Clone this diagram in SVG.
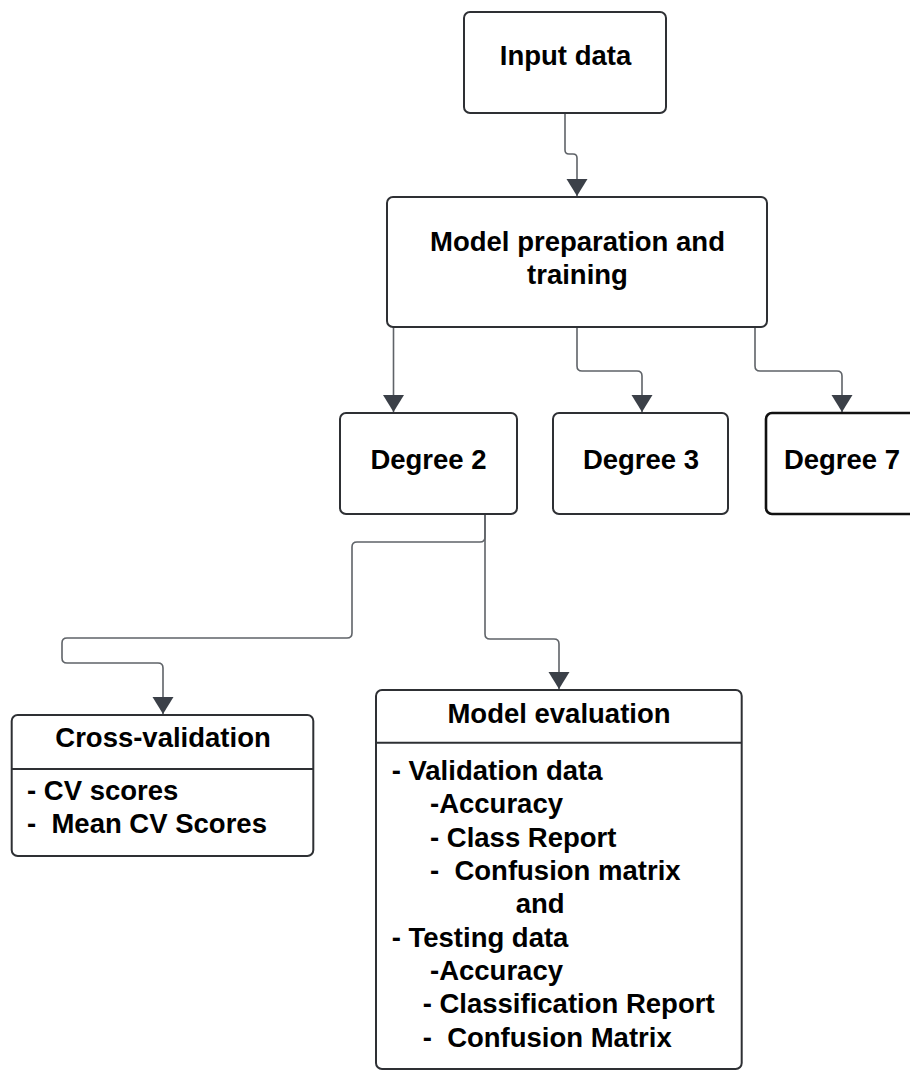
<svg xmlns="http://www.w3.org/2000/svg" width="910" height="1071" viewBox="0 0 910 1071">
<style>
.box{fill:#fff;stroke:#2e3034;stroke-width:2}
.dark{fill:#fff;stroke:#111;stroke-width:2.6}
.t{font-family:"Liberation Sans",Arial,sans-serif;font-weight:bold;font-size:27.5px;fill:#000}
.c{text-anchor:middle}
.div{stroke:#2e3034;stroke-width:2}
.con{fill:none;stroke:#5f6368;stroke-width:1.6}
</style>
<defs>
<marker id="ah" markerUnits="userSpaceOnUse" viewBox="0 -11 18 22" refX="17" refY="0" markerWidth="18" markerHeight="22" orient="auto">
<path d="M0,-10.5 L17,0 L0,10.5 Z" fill="#3b4048"/>
</marker>
</defs>
<rect width="910" height="1071" fill="#fff"/>
<g id="connectors">
<path class="con" marker-end="url(#ah)" d="M565,113 V150 Q565,154 569,154 H573 Q577,154 577,158 V196"/>
<path class="con" marker-end="url(#ah)" d="M393.5,327 V412"/>
<path class="con" marker-end="url(#ah)" d="M577,327 V366 Q577,371 582,371 H637 Q642,371 642,376 V412"/>
<path class="con" marker-end="url(#ah)" d="M755,327 V366 Q755,371 760,371 H837 Q842,371 842,376 V412"/>
<path class="con" marker-end="url(#ah)" d="M485,514 V634 Q485,639 490,639 H554 Q559,639 559,644 V689"/>
<path class="con" marker-end="url(#ah)" d="M485,514 V537 Q485,542 480,542 H357 Q352,542 352,547 V633 Q352,638 347,638 H67 Q62,638 62,643 V658 Q62,663 67,663 H158 Q163,663 163,668 V714"/>
</g>
<g id="input-data">
<rect class="box" x="464" y="12" width="202" height="101" rx="6"/>
<text class="t c" x="565.5" y="65">Input data</text>
</g>
<g id="model-preparation">
<rect class="box" x="387" y="197" width="380" height="130" rx="6"/>
<text class="t c" x="577.5" y="251">Model preparation and</text>
<text class="t c" x="577.5" y="284">training</text>
</g>
<g id="degree-2">
<rect class="box" x="340" y="413" width="177" height="101" rx="6"/>
<text class="t c" x="428.5" y="469">Degree 2</text>
</g>
<g id="degree-3">
<rect class="box" x="553" y="413" width="175" height="101" rx="6"/>
<text class="t c" x="641" y="469">Degree 3</text>
</g>
<g id="degree-7">
<rect class="dark" x="766" y="413" width="170" height="101" rx="6"/>
<text class="t c" x="842" y="469">Degree 7</text>
</g>
<g id="cross-validation">
<rect class="box" x="11.7" y="715" width="301.6" height="141" rx="6"/>
<line class="div" x1="11.7" y1="769" x2="313.3" y2="769"/>
<text class="t c" x="163" y="746.7">Cross-validation</text>
<text class="t" x="27" y="800" xml:space="preserve">- CV scores</text>
<text class="t" x="27" y="833.3" xml:space="preserve">-  Mean CV Scores</text>
</g>
<g id="model-evaluation">
<rect class="box" x="376" y="690" width="365.7" height="379" rx="6"/>
<line class="div" x1="376" y1="742.7" x2="741.7" y2="742.7"/>
<text class="t c" x="559" y="722.7">Model evaluation</text>
<text class="t" x="391.7" y="780" xml:space="preserve">- Validation data</text>
<text class="t" x="430" y="813.3" xml:space="preserve">-Accuracy</text>
<text class="t" x="430" y="846.7" xml:space="preserve">- Class Report</text>
<text class="t" x="430" y="880" xml:space="preserve">-  Confusion matrix</text>
<text class="t" x="515.7" y="913.3" xml:space="preserve">and</text>
<text class="t" x="391.7" y="946.7" xml:space="preserve">- Testing data</text>
<text class="t" x="430" y="980" xml:space="preserve">-Accuracy</text>
<text class="t" x="422.7" y="1013.3" xml:space="preserve">- Classification Report</text>
<text class="t" x="422.7" y="1046.7" xml:space="preserve">-  Confusion Matrix</text>
</g>
</svg>
